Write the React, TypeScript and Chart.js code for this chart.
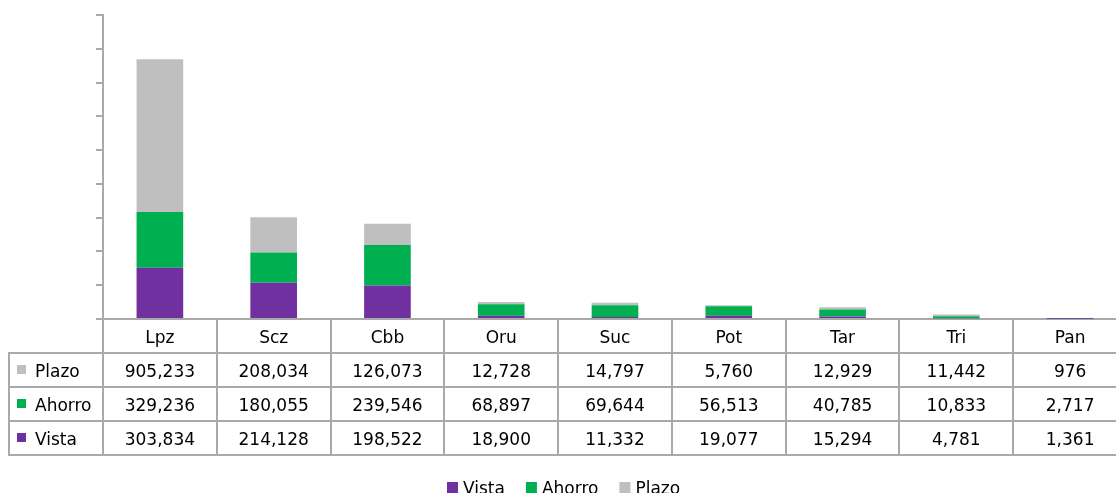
import React, { useEffect, useRef } from "react";
import { Chart, registerables } from "chart.js";

Chart.register(...registerables);

const categories = ["Lpz", "Scz", "Cbb", "Oru", "Suc", "Pot", "Tar", "Tri", "Pan"];
const vista = [303834, 214128, 198522, 18900, 11332, 19077, 15294, 4781, 1361];
const ahorro = [329236, 180055, 239546, 68897, 69644, 56513, 40785, 10833, 2717];
const plazo = [905233, 208034, 126073, 12728, 14797, 5760, 12929, 11442, 976];

const yMax = 1800000;
const yStep = 200000;

const FONT = '17px "DejaVu Sans"';
const LINE = "#A9A9A9";

const tablePlugin = {
  id: "dataTable",
  afterDraw(chart: any) {
    const ctx = chart.ctx;
    const area = chart.chartArea;
    const n = categories.length;
    const w = (area.right - area.left) / n;
    const top = area.bottom;
    const rowH = 34;
    const tableLeft = 9;
    const datasets = chart.data.datasets;
    // rows: Plazo, Ahorro, Vista (reverse stacking order)
    const rows = [2, 1, 0];
    ctx.save();
    ctx.strokeStyle = LINE;
    ctx.lineWidth = 2;
    ctx.beginPath();
    for (let i = 0; i <= n; i++) {
      const x = Math.round(area.left + i * w);
      ctx.moveTo(x, top);
      ctx.lineTo(x, top + rowH * 4);
    }
    ctx.moveTo(tableLeft, top + rowH);
    ctx.lineTo(tableLeft, top + rowH * 4);
    for (let r = 1; r <= 4; r++) {
      ctx.moveTo(tableLeft - 1, top + rowH * r);
      ctx.lineTo(area.right, top + rowH * r);
    }
    ctx.stroke();

    ctx.font = FONT;
    ctx.fillStyle = "#000";
    ctx.textBaseline = "alphabetic";
    ctx.textAlign = "center";
    const xs = chart.scales.x;
    for (let i = 0; i < n; i++) {
      const cx = xs.getPixelForValue(i);
      ctx.fillText(categories[i], cx, top + 24);
      rows.forEach((di, r) => {
        const v = datasets[di].data[i] as number;
        ctx.fillText(v.toLocaleString("en-US"), cx, top + rowH * (r + 1) + 24);
      });
    }
    ctx.textAlign = "left";
    rows.forEach((di, r) => {
      const rt = top + rowH * (r + 1);
      ctx.fillStyle = datasets[di].backgroundColor;
      ctx.fillRect(17, rt + 12, 9, 9);
      ctx.fillStyle = "#000";
      ctx.fillText(datasets[di].label, 35, rt + 24);
    });

    // legend
    const items = datasets.map((d: any) => ({ label: d.label, color: d.backgroundColor, tw: ctx.measureText(d.label).width }));
    const box = 11;
    const gapBT = 5;
    const gapItem = 21;
    let total = 0;
    items.forEach((it: any, k: number) => {
      total += box + gapBT + it.tw + (k < items.length - 1 ? gapItem : 0);
    });
    let x = Math.round(564 - total / 2);
    items.forEach((it: any) => {
      ctx.fillStyle = it.color;
      ctx.fillRect(x, 482, box, box);
      ctx.fillStyle = "#000";
      ctx.fillText(it.label, x + box + gapBT, 494);
      x += box + gapBT + it.tw + gapItem;
    });
    ctx.restore();
  },
};

export default function App() {
  const ref = useRef<HTMLCanvasElement | null>(null);
  useEffect(() => {
    if (!ref.current) return;
    const chart = new Chart(ref.current, {
      type: "bar",
      data: {
        labels: categories,
        datasets: [
          { label: "Vista", data: vista, backgroundColor: "#7030A0" },
          { label: "Ahorro", data: ahorro, backgroundColor: "#00B050" },
          { label: "Plazo", data: plazo, backgroundColor: "#BFBFBF" },
        ],
      },
      options: {
        responsive: false,
        animation: false,
        devicePixelRatio: 1,
        layout: { padding: { top: 15, bottom: 174, left: 0, right: 1 } },
        datasets: { bar: { barPercentage: 1, categoryPercentage: 0.41 } },
        plugins: { legend: { display: false }, tooltip: { enabled: false } },
        scales: {
          x: {
            stacked: true,
            ticks: { display: false },
            grid: { display: false },
            border: { display: true, color: LINE, width: 2 },
            afterFit: (s: any) => {
              s.height = 0;
            },
          },
          y: {
            stacked: true,
            min: 0,
            max: yMax,
            ticks: { display: false, stepSize: yStep },
            grid: { drawOnChartArea: false, drawTicks: true, tickLength: 7, color: LINE, lineWidth: 2 },
            border: { display: true, color: LINE, width: 2 },
            afterFit: (s: any) => {
              s.width = 103;
            },
          },
        },
      },
      plugins: [tablePlugin],
    });
    return () => chart.destroy();
  }, []);
  return (
    <div style={{ position: "fixed", left: 0, top: 0, width: 1116, height: 493, overflow: "hidden", background: "#fff" }}>
      <canvas ref={ref} width={1128} height={493} style={{ display: "block" }} />
    </div>
  );
}
